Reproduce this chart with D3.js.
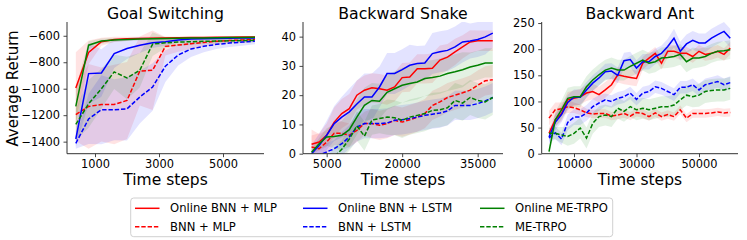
<!DOCTYPE html>
<html><head><meta charset="utf-8">
<script src="https://cdn.jsdelivr.net/npm/d3@7"></script>
<style>body{margin:0;background:#fff}svg{display:block}text{font-family:"DejaVu Sans",sans-serif}</style>
</head><body><svg id="c" width="747" height="240"></svg>
<script>
// ---------- DATA ----------
const seriesNames = ["Online BNN + MLP","BNN + MLP","Online BNN + LSTM","BNN + LSTM","Online ME-TRPO","ME-TRPO"];
const seriesColors = ["#ff0000","#ff0000","#0000ff","#0000ff","#008000","#008000"];
const seriesDashed = [false,true,false,true,false,true];

const goalX = [400,800,1200,1600,2000,2400,2800,3200,3600,4000,4400,4800,5200,5600,6000];
const goalOnlineBnnMlp = [-995,-726,-645,-628,-622,-620,-618,-616,-615,-614,-613,-612,-611,-610,-610];
const goalOnlineBnnMlpStd = [270,90,30,20,15,12,10,10,10,8,8,8,8,8,8];
const goalBnnMlp = [-1195,-1134,-1119,-1119,-1089,-866,-861,-680,-670,-660,-650,-642,-636,-632,-628];
const goalBnnMlpStd = [200,320,280,300,290,260,300,70,50,40,30,25,20,20,20];
const goalOnlineBnnLstm = [-1380,-886,-881,-734,-696,-671,-653,-645,-632,-625,-622,-620,-618,-617,-616];
const goalOnlineBnnLstmStd = [60,230,180,110,80,60,40,30,20,15,12,10,10,10,10];
const goalBnnLstm = [-1413,-1228,-1159,-1159,-1152,-1063,-987,-830,-745,-700,-680,-665,-655,-648,-640];
const goalBnnLstmStd = [40,190,260,230,240,200,180,120,80,60,45,35,30,28,25];
const goalOnlineMe = [-1134,-671,-640,-632,-628,-625,-622,-620,-618,-617,-616,-615,-614,-613,-612];
const goalOnlineMeStd = [140,30,20,15,12,10,10,10,8,8,8,8,8,8,8];
const goalMe = [-1270,-1114,-1000,-873,-919,-861,-663,-653,-648,-645,-642,-640,-638,-636,-634];
const goalMeStd = [120,180,150,130,160,130,90,40,30,25,20,18,15,15,15];
const goalXTicks = [1000,3000,5000];
const goalYTicks = [-1400,-1200,-1000,-800,-600];

const snakeX = [2000,3500,5000,6500,8000,9500,11000,12500,14000,15500,17000,18500,20000,21500,23000,24500,26000,27500,29000,30500,32000,33500,35000,36500,38000];
const snakeOnlineBnnMlp = [3.2,4,6.3,10.8,13.7,15.4,20,21.7,22.5,22.2,21.7,22.8,26,26.2,29,29,29.2,32,33,34.8,36.5,38.2,38.6,38.6,38.6];
const snakeOnlineBnnMlpStd = [3,3,4,5,5,5,5,5,5,5,5,5,5,5,5,5,5,5,4.5,4.5,4,4,3.5,3.5,3.5];
const snakeBnnMlp = [2.3,1.7,4,7,7,6.3,8,10.3,10.3,9.7,10.3,11.4,10.8,11.6,12.5,13.7,16.5,17.7,19.2,20,20.8,21.7,23.4,24.9,25.3];
const snakeBnnMlpStd = [6,5,4,4,4,4,4,4,5,5,5,5,5,5,5,5,5,5,5,5,5,5,5,5,5];
const snakeOnlineBnnLstm = [0,2.8,6.3,10.3,12.5,14.3,17,19.4,19.4,22.8,27.4,27.4,28.7,30.2,30.8,31,34.2,34.8,35.3,36.5,38.2,38.5,39,39.9,41.2];
const snakeOnlineBnnLstmStd = [3,4,5,6,7,8,8,8,8,7,7,7,7,7,6,6,7,7,7,7,7,6,6,6,5];
const snakeBnnLstm = [-2,-0.5,0.6,1.7,3.4,5.7,9.1,10.3,10.3,10.3,10.5,11.4,11.6,12,12.5,13.1,13.5,13.9,14.6,16.5,16.5,16.5,17.1,18,19.2];
const snakeBnnLstmStd = [2,2,3,3,4,4,5,5,5,5,5,5,5,5,5,5,5,5,5,5,5,5,5,5,5];
const snakeOnlineMe = [0.5,3.4,5.7,5.9,6.3,8.2,12.5,16.5,18.2,17.9,21,22.2,23.4,24,24.5,25.7,26,26.5,27.4,28,28.7,29.6,30.2,31,31];
const snakeOnlineMeStd = [1,2,3,4,5,6,6,6,6,6,6,6,6,6,6,6,6,6,6,6,6,5,5,5,5];
const snakeMe = [-8,-6,-4,-1,1.5,5,9.5,6,11.5,12,12.5,12.3,11.4,12.5,13.1,13.7,14.8,15,15.7,18.2,17.3,19.2,18.2,17.7,19.2];
const snakeMeStd = [3,3,3,3,3,4,5,5,5,5,6,6,6,6,6,6,6,6,6,6,6,6,6,6,6];
const snakeXTicks = [5000,20000,35000];
const snakeYTicks = [0,10,20,30,40];

const antX = [2000,4000,6000,8000,10000,12000,14000,16000,18000,20000,22000,24000,26000,28000,30000,32000,34000,36000,38000,40000,42000,44000,46000,48000,50000,52000,54000,56000,58000,60000];
const antOnlineBnnMlp = [39,65,77,103,106,109,116,119,113,122,132,151,148,146,144,173,183,192,173,196,196,192,192,186,196,190,192,196,190,202];
const antOnlineBnnMlpStd = [10,12,15,15,15,15,15,15,15,15,15,15,15,15,15,12,12,12,12,12,12,12,12,12,12,12,12,12,12,12];
const antBnnMlp = [68,84,86,90,88,84,78,76,77,77,72,74,77,72,79,77,71,78,71,75,71,84,68,77,77,77,78,80,78,79];
const antBnnMlpStd = [14,14,12,12,10,10,8,8,8,8,8,8,8,8,8,8,8,8,8,8,8,8,8,8,8,8,8,8,8,8];
const antOnlineBnnLstm = [32,60,75,98,108,108,122,135,145,157,158,150,178,180,164,176,176,186,192,205,221,196,210,217,212,212,221,228,234,221];
const antOnlineBnnLstmStd = [10,15,15,15,15,15,15,15,15,15,15,15,15,15,15,15,15,15,15,15,18,18,18,18,18,18,18,18,18,18];
const antBnnLstm = [30,40,28,60,70,70,78,90,97,103,100,106,109,116,104,116,119,128,125,119,113,127,127,132,122,132,135,138,132,136];
const antBnnLstmStd = [10,12,12,15,15,15,15,15,15,12,12,12,12,12,12,12,12,12,12,12,12,12,12,12,12,12,12,12,12,12];
const antOnlineMe = [4,65,84,106,109,109,128,141,151,160,164,160,160,167,173,179,173,176,183,184,186,190,176,183,183,186,192,196,197,199];
const antOnlineMeStd = [8,15,18,20,20,20,20,20,20,20,20,20,20,20,20,20,20,20,20,20,20,20,20,20,18,18,18,18,18,18];
const antMe = [39,39,36,33,39,49,30,58,71,74,71,87,81,90,84,87,84,87,90,90,93,103,112,109,112,119,121,122,122,125];
const antMeStd = [10,12,15,18,20,20,20,20,20,20,20,20,20,20,20,20,20,20,20,20,20,20,20,20,22,22,22,22,22,22];
const antXTicks = [10000,30000,50000];
const antYTicks = [0,50,100,150,200,250];

// ---------- LAYOUT ----------
const panels = [
  {title:"Goal Switching", x:goalX, xd:[125,6281], yd:[-1491,-496], left:67, right:264, xt:goalXTicks, yt:goalYTicks,
   means:[goalOnlineBnnMlp,goalBnnMlp,goalOnlineBnnLstm,goalBnnLstm,goalOnlineMe,goalMe],
   stds:[goalOnlineBnnMlpStd,goalBnnMlpStd,goalOnlineBnnLstmStd,goalBnnLstmStd,goalOnlineMeStd,goalMeStd]},
  {title:"Backward Snake", x:snakeX, xd:[300,40030], yd:[0,45], left:303, right:503, xt:snakeXTicks, yt:snakeYTicks,
   means:[snakeOnlineBnnMlp,snakeBnnMlp,snakeOnlineBnnLstm,snakeBnnLstm,snakeOnlineMe,snakeMe],
   stds:[snakeOnlineBnnMlpStd,snakeBnnMlpStd,snakeOnlineBnnLstmStd,snakeBnnLstmStd,snakeOnlineMeStd,snakeMeStd]},
  {title:"Backward Ant", x:antX, xd:[-336,62480], yd:[0,252], left:541.7, right:738, xt:antXTicks, yt:antYTicks,
   means:[antOnlineBnnMlp,antBnnMlp,antOnlineBnnLstm,antBnnLstm,antOnlineMe,antMe],
   stds:[antOnlineBnnMlpStd,antBnnMlpStd,antOnlineBnnLstmStd,antBnnLstmStd,antOnlineMeStd,antMeStd]}
];
const plotTop = 22, plotBottom = 153.7;
const svg = d3.select("#c");
const dash = "4.4,1.9";
const tickFont = "11.4px";
const legendFont = "11.6px";

panels.forEach((p, pi) => {
  const xs = d3.scaleLinear().domain(p.xd).range([p.left, p.right]);
  const ys = d3.scaleLinear().domain(p.yd).range([plotBottom, plotTop]);
  const cid = "clip" + pi;
  svg.append("clipPath").attr("id", cid).append("rect")
    .attr("x", p.left).attr("y", plotTop).attr("width", p.right - p.left).attr("height", plotBottom - plotTop);
  const g = svg.append("g").attr("clip-path", `url(#${cid})`);
  const area = d3.area().x((d,i)=>xs(p.x[i])).y0(d=>ys(d[0]-d[1])).y1(d=>ys(d[0]+d[1]));
  const line = d3.line().x((d,i)=>xs(p.x[i])).y(d=>ys(d));
  p.means.forEach((m, si) => {
    const data = m.map((v,i)=>[v, p.stds[si][i]]);
    g.append("path").attr("d", area(data)).attr("fill", seriesColors[si]).attr("fill-opacity", 0.11);
  });
  p.means.forEach((m, si) => {
    g.append("path").attr("d", line(m)).attr("fill","none").attr("stroke", seriesColors[si])
      .attr("stroke-width", 1.5).attr("stroke-dasharray", seriesDashed[si] ? dash : null);
  });
  const xa = svg.append("g").attr("transform", `translate(0,${plotBottom})`)
    .call(d3.axisBottom(xs).tickValues(p.xt).tickFormat(d3.format("d")).tickSize(3.5).tickPadding(2.5).tickSizeOuter(0));
  const ya = svg.append("g").attr("transform", `translate(${p.left},0)`)
    .call(d3.axisLeft(ys).tickValues(p.yt).tickFormat(d=>d<0?"\u2212"+Math.abs(d):String(d)).tickSize(3.5).tickPadding(3.5).tickSizeOuter(0));
  [xa, ya].forEach(a => {
    a.select(".domain").attr("stroke", "#333").attr("stroke-width", 1);
    a.selectAll(".tick line").attr("stroke", "#333").attr("stroke-width", 0.9);
    a.selectAll("text").attr("font-size", tickFont).attr("font-family", "DejaVu Sans").attr("fill", "#000");
  });
  xa.select(".domain").attr("d", `M${p.left},0H${p.right}`);
  ya.select(".domain").attr("d", `M0,${plotBottom}V${plotTop}`);
  const cx = (p.left + p.right) / 2;
  svg.append("text").attr("x", cx).attr("y", 18.5).attr("text-anchor","middle").attr("font-size","15.7px").text(p.title);
  svg.append("text").attr("x", cx).attr("y", 184.5).attr("text-anchor","middle").attr("font-size","15.5px").text("Time steps");
});

svg.append("text").attr("transform","translate(18,88.5) rotate(-90)").attr("text-anchor","middle")
  .attr("font-size","15px").text("Average Return");

// ---------- LEGEND ----------
const lg = svg.append("g");
lg.append("rect").attr("x",130.7).attr("y",198).attr("width",482).attr("height",38.7).attr("rx",3)
  .attr("fill","#fff").attr("stroke","#d0d0d0").attr("stroke-width",1);
const colX = [135, 303, 480];
const rowY = [208.3, 226.7];
seriesNames.forEach((n, i) => {
  const col = Math.floor(i / 2), row = i % 2;
  const x0 = colX[col], y0 = rowY[row];
  lg.append("line").attr("x1", x0).attr("x2", x0 + 24.5).attr("y1", y0).attr("y2", y0)
    .attr("stroke", seriesColors[i]).attr("stroke-width", 1.5).attr("stroke-dasharray", seriesDashed[i] ? dash : null);
  lg.append("text").attr("x", x0 + 35).attr("y", y0 + 4).attr("font-size", legendFont).text(n);
});
</script></body></html>
